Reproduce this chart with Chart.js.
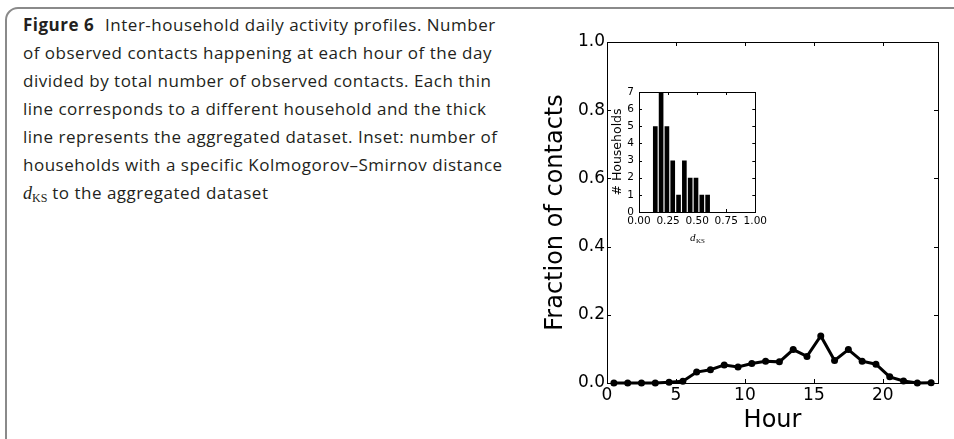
<!DOCTYPE html>
<html>
<head>
<meta charset="utf-8">
<script src="https://cdn.jsdelivr.net/npm/chart.js@4.4.1/dist/chart.umd.min.js"></script>
<style>
  html, body { margin: 0; padding: 0; background: #fff; }
  body { width: 954px; height: 439px; position: relative; overflow: hidden; }
  .frame { position: absolute; left: 5px; top: 7px; width: 1000px; height: 500px;
           border: 2px solid #8a8a8a; border-radius: 13px; box-sizing: border-box; }
  .caption { position: absolute; left: 23px; top: 11px; font-family: 'Open Sans', sans-serif;
             font-size: 17px; letter-spacing: 0.5px; line-height: 28px; color: #231f20; white-space: nowrap; }
  .caption b { font-weight: 700; margin-right: 6px; }
  .caption .m { font-family: 'Liberation Serif', serif; font-size: 18px; letter-spacing: 0; }
  .caption sub { font-size: 12px; vertical-align: -3px; }
  #mainWrap { position: absolute; left: 520px; top: 0; width: 434px; height: 439px; }
  #insetWrap { position: absolute; left: 590px; top: 80px; width: 180px; height: 175px; }
</style>
</head>
<body>
<div class="frame"></div>
<div class="caption">
  <b>Figure 6</b> Inter-household daily activity profiles. Number<br>
  of observed contacts happening at each hour of the day<br>
  divided by total number of observed contacts. Each thin<br>
  line corresponds to a different household and the thick<br>
  line represents the aggregated dataset. Inset: number of<br>
  households with a specific Kolmogorov–Smirnov distance<br>
  <span class="m"><i>d</i><sub>KS</sub></span> to the aggregated dataset
</div>
<div id="mainWrap"><canvas id="mainChart" width="434" height="439"></canvas></div>
<div id="insetWrap"><canvas id="insetChart" width="180" height="175"></canvas></div>
<script>
// ===== DATA =====
const hours = [0.5, 1.5, 2.5, 3.5, 4.5, 5.5, 6.5, 7.5, 8.5, 9.5, 10.5, 11.5,
               12.5, 13.5, 14.5, 15.5, 16.5, 17.5, 18.5, 19.5, 20.5, 21.5, 22.5, 23.5];
const fraction = [0, 0, 0, 0, 0.002, 0.005, 0.032, 0.039, 0.053, 0.047, 0.057, 0.064,
                  0.062, 0.098, 0.078, 0.138, 0.066, 0.098, 0.064, 0.055, 0.018, 0.006, 0, 0.001];
const hourTicks = [0, 5, 10, 15, 20];
const fractionTicks = [0, 0.2, 0.4, 0.6, 0.8, 1.0];

const dksCenters = [0.14, 0.19, 0.24, 0.29, 0.34, 0.39, 0.44, 0.49, 0.54, 0.59];
const households = [5, 7, 5, 3, 1, 3, 2, 2, 1, 1];
const dksTicks = [0, 0.25, 0.5, 0.75, 1.0];
const householdTicks = [0, 1, 2, 3, 4, 5, 6, 7];

Chart.defaults.font.family = 'DejaVu Sans';
Chart.defaults.color = '#000';
Chart.defaults.animation = false;

// matplotlib-style frame with inward ticks on all four sides
const frameTicks = {
  id: 'frameTicks',
  beforeDatasetsDraw(chart, args, opts) {
    const { ctx, chartArea: a, scales } = chart;
    const len = opts.len || 4;
    ctx.save();
    ctx.fillStyle = '#fff';
    ctx.fillRect(a.left, a.top, a.right - a.left, a.bottom - a.top);
    ctx.strokeStyle = '#000';
    ctx.lineWidth = 1;
    ctx.beginPath();
    scales.x.ticks.forEach(t => {
      const px = Math.round(scales.x.getPixelForValue(t.value)) + 0.5;
      ctx.moveTo(px, a.bottom); ctx.lineTo(px, a.bottom - len);
      ctx.moveTo(px, a.top); ctx.lineTo(px, a.top + len);
    });
    scales.y.ticks.forEach(t => {
      const py = Math.round(scales.y.getPixelForValue(t.value)) + 0.5;
      ctx.moveTo(a.left, py); ctx.lineTo(a.left + len, py);
      ctx.moveTo(a.right, py); ctx.lineTo(a.right - len, py);
    });
    ctx.stroke();
    ctx.strokeRect(Math.round(a.left) + 0.5, Math.round(a.top) + 0.5,
                   Math.round(a.right - a.left), Math.round(a.bottom - a.top));
    ctx.restore();
  }
};

// ===== MAIN CHART =====
new Chart(document.getElementById('mainChart'), {
  type: 'line',
  data: {
    datasets: [{
      data: hours.map((h, i) => ({ x: h, y: fraction[i] })),
      borderColor: '#000',
      backgroundColor: '#000',
      borderWidth: 3,
      pointRadius: 3.5,
      pointBackgroundColor: '#000',
      pointBorderWidth: 0,
      tension: 0,
      clip: false
    }]
  },
  options: {
    responsive: false,
    layout: { padding: { top: 42, right: 16, left: 0, bottom: 0 } },
    plugins: { legend: { display: false }, tooltip: { enabled: false }, frameTicks: { len: 4 } },
    scales: {
      x: {
        type: 'linear', min: 0, max: 24,
        afterBuildTicks: s => { s.ticks = hourTicks.map(v => ({ value: v })); },
        afterFit: s => { s.height = 56; },
        grid: { display: false, drawTicks: false },
        border: { display: false },
        ticks: { font: { size: 17 }, padding: 2, maxRotation: 0 },
        title: { display: true, text: 'Hour', font: { size: 24 }, padding: { top: 0, bottom: 4 } }
      },
      y: {
        min: 0, max: 1,
        afterBuildTicks: s => { s.ticks = fractionTicks.map(v => ({ value: v })); },
        afterFit: s => { s.width = 87; },
        grid: { display: false, drawTicks: false },
        border: { display: false },
        ticks: { font: { size: 17 }, padding: 2, callback: v => v.toFixed(1) },
        title: { display: true, text: 'Fraction of contacts', font: { size: 24 }, padding: { top: 21, bottom: 0 } }
      }
    }
  },
  plugins: [frameTicks]
});

// ===== INSET HISTOGRAM =====
const dksLabel = {
  id: 'dksLabel',
  afterDraw(chart) {
    const { ctx, chartArea: a } = chart;
    const cx = (a.left + a.right) / 2;
    ctx.save();
    ctx.fillStyle = '#000';
    ctx.textBaseline = 'alphabetic';
    ctx.font = 'italic 11px "Liberation Serif"';
    const wd = ctx.measureText('d').width;
    ctx.font = '7px "Liberation Serif"';
    const ws = ctx.measureText('KS').width;
    const x0 = cx - (wd + ws) / 2;
    ctx.font = 'italic 11px "Liberation Serif"';
    ctx.fillText('d', x0, 160.5);
    ctx.font = '7px "Liberation Serif"';
    ctx.fillText('KS', x0 + wd + 0.5, 162.5);
    ctx.restore();
  }
};

new Chart(document.getElementById('insetChart'), {
  type: 'bar',
  data: {
    datasets: [{
      data: dksCenters.map((c, i) => ({ x: c, y: households[i] })),
      backgroundColor: '#000',
      borderWidth: 0,
      barPercentage: 0.8,
      categoryPercentage: 1
    }]
  },
  options: {
    responsive: false,
    layout: { padding: { top: 12, right: 12, left: 0, bottom: 0 } },
    plugins: { legend: { display: false }, tooltip: { enabled: false }, frameTicks: { len: 3 } },
    scales: {
      x: {
        type: 'linear', min: 0, max: 1, offset: false,
        afterBuildTicks: s => { s.ticks = dksTicks.map(v => ({ value: v })); },
        afterFit: s => { s.height = 43; },
        grid: { display: false, drawTicks: false, offset: false },
        border: { display: false },
        ticks: { font: { size: 10.5 }, padding: 3, maxRotation: 0, callback: v => v.toFixed(2) }
      },
      y: {
        min: 0, max: 7,
        afterBuildTicks: s => { s.ticks = householdTicks.map(v => ({ value: v })); },
        afterFit: s => { s.width = 49; },
        grid: { display: false, drawTicks: false },
        border: { display: false },
        ticks: { font: { size: 10.5 }, padding: 5 },
        title: { display: true, text: '# Households', font: { size: 12.5 }, padding: { top: 20, bottom: 0 } }
      }
    }
  },
  plugins: [frameTicks, dksLabel]
});
</script>
</body>
</html>
